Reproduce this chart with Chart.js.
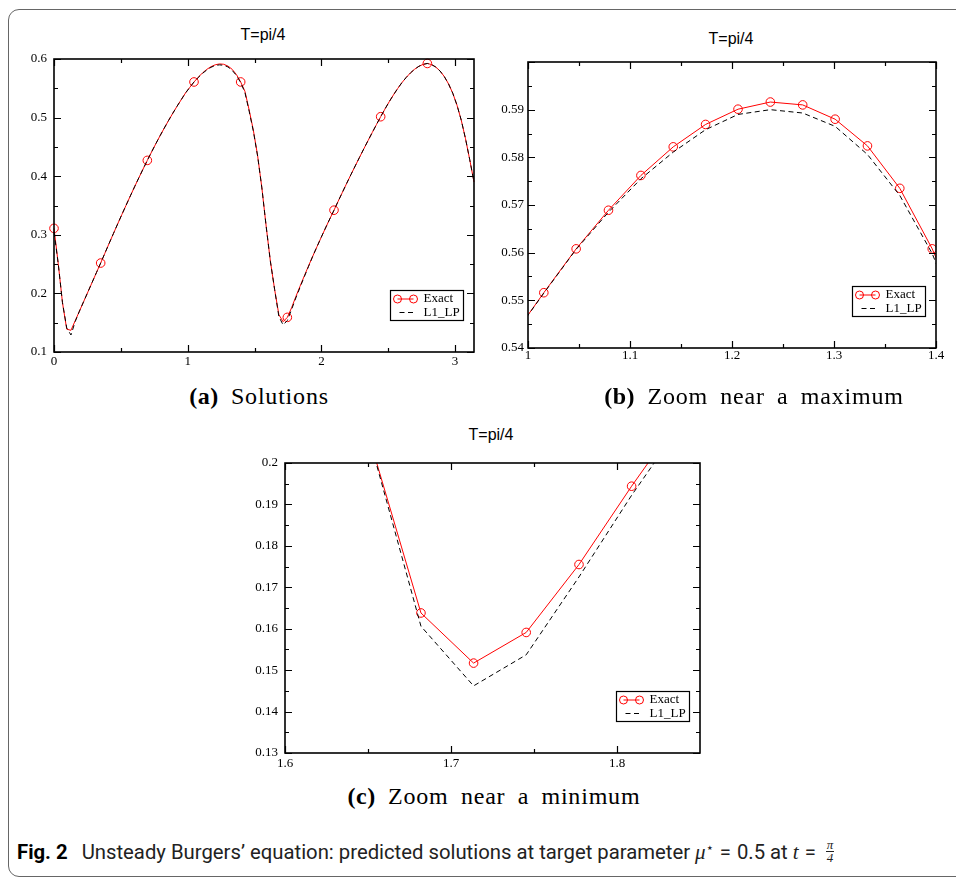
<!DOCTYPE html>
<html>
<head>
<meta charset="utf-8">
<script src="https://cdn.jsdelivr.net/npm/chart.js@4"></script>
<style>
  body { margin: 0; background: #fff; width: 956px; height: 878px; position: relative; overflow: hidden; }
  #frame { position: absolute; left: 8px; top: 9px; width: 1000px; height: 866px; border: 1.3px solid #666; border-radius: 11px; }
  canvas { position: absolute; }
  .ttl { position: absolute; font: 16px "Liberation Sans", Arial, sans-serif; color: #000; transform: translate(-50%, -50%); white-space: nowrap; }
  .sub { position: absolute; font: 24px "Liberation Serif", "Times New Roman", serif; letter-spacing: 0.8px; word-spacing: 5.5px; color: #000; transform: translate(-50%, -50%); white-space: nowrap; }
  .sub b { letter-spacing: 0.5px; }
  #caption { position: absolute; left: 17px; top: 840px; font: 20.3px Roboto, "Liberation Sans", sans-serif; color: #222; white-space: nowrap; }
  #caption b { font-weight: 700; color: #000; margin-right: 14px; }
  #caption .m { font-family: "Liberation Serif", serif; font-size: 21px; }
  #caption .star { font: 13px "DejaVu Sans", sans-serif; vertical-align: 7px; }
  #caption .eq { margin: 0 6px; }
  .frac { display: inline-block; vertical-align: middle; text-align: center; font: italic 13px "Liberation Serif", serif; line-height: 12px; margin-top: -4px; margin-left: 4px; }
  .frac span { display: block; padding: 0 1px; }
  .frac span:first-child { border-bottom: 1px solid #222; }
</style>
</head>
<body>
<div id="frame"></div>

<div class="ttl" style="left:263px; top:35px">T=pi/4</div>
<div class="ttl" style="left:731px; top:39px">T=pi/4</div>
<div class="ttl" style="left:491px; top:435px">T=pi/4</div>

<canvas id="solutions" width="480" height="325" style="left:0px; top:50px"></canvas>
<canvas id="zoomMax" width="480" height="325" style="left:476px; top:50px"></canvas>
<canvas id="zoomMin" width="480" height="330" style="left:240px; top:450px"></canvas>

<div class="sub" style="left:259px; top:396px"><b>(a)</b> Solutions</div>
<div class="sub" style="left:754px; top:396px"><b>(b)</b> Zoom near a maximum</div>
<div class="sub" style="left:494px; top:796px"><b>(c)</b> Zoom near a minimum</div>

<div id="caption"><b>Fig. 2</b>Unsteady Burgers’ equation: predicted solutions at target parameter <i class="m">μ</i><span class="star">⋆</span><span class="eq">=</span>0.5 at <i class="m">t</i><span class="eq">=</span><span class="frac"><span>π</span><span>4</span></span></div>

<script>
// grid points on [0, pi]
const xGrid = [
  0.0000, 0.0317, 0.0635, 0.0952, 0.1269, 0.1587, 0.1904, 0.2221, 0.2539, 0.2856,
  0.3173, 0.3491, 0.3808, 0.4125, 0.4443, 0.4760, 0.5077, 0.5395, 0.5712, 0.6029,
  0.6347, 0.6664, 0.6981, 0.7299, 0.7616, 0.7933, 0.8251, 0.8568, 0.8885, 0.9203,
  0.9520, 0.9837, 1.0155, 1.0472, 1.0789, 1.1107, 1.1424, 1.1741, 1.2059, 1.2376,
  1.2693, 1.3011, 1.3328, 1.3645, 1.3963, 1.4280, 1.4597, 1.4915, 1.5232, 1.5549,
  1.5867, 1.6184, 1.6501, 1.6819, 1.7136, 1.7453, 1.7771, 1.8088, 1.8405, 1.8723,
  1.9040, 1.9357, 1.9675, 1.9992, 2.0309, 2.0627, 2.0944, 2.1261, 2.1579, 2.1896,
  2.2213, 2.2531, 2.2848, 2.3165, 2.3483, 2.3800, 2.4117, 2.4435, 2.4752, 2.5069,
  2.5387, 2.5704, 2.6021, 2.6339, 2.6656, 2.6973, 2.7291, 2.7608, 2.7925, 2.8243,
  2.8560, 2.8877, 2.9195, 2.9512, 2.9829, 3.0147, 3.0464, 3.0781, 3.1099, 3.1416
];

const exact = [
  0.3110, 0.2507, 0.1840, 0.1390, 0.1370, 0.1534, 0.1698, 0.1862, 0.2026, 0.2190,
  0.2354, 0.2518, 0.2686, 0.2854, 0.3020, 0.3184, 0.3346, 0.3506, 0.3664, 0.3820,
  0.3973, 0.4123, 0.4270, 0.4414, 0.4554, 0.4690, 0.4822, 0.4950, 0.5074, 0.5193,
  0.5307, 0.5420, 0.5516, 0.5608, 0.5689, 0.5762, 0.5822, 0.5869, 0.5901, 0.5916,
  0.5910, 0.5880, 0.5824, 0.5735, 0.5608, 0.5450, 0.5130, 0.4780, 0.4350, 0.3800,
  0.3150, 0.2550, 0.2070, 0.1638, 0.1517, 0.1591, 0.1755, 0.1944, 0.2123, 0.2298,
  0.2469, 0.2636, 0.2799, 0.2959, 0.3116, 0.3270, 0.3420, 0.3575, 0.3728, 0.3879,
  0.4028, 0.4175, 0.4320, 0.4463, 0.4604, 0.4743, 0.4880, 0.5015, 0.5145, 0.5269,
  0.5386, 0.5495, 0.5595, 0.5684, 0.5761, 0.5825, 0.5875, 0.5908, 0.5924, 0.5905,
  0.5862, 0.5795, 0.5700, 0.5575, 0.5415, 0.5210, 0.4955, 0.4640, 0.4280, 0.3900
];

const l1lp = [
  0.3050, 0.2507, 0.1840, 0.1410, 0.1290, 0.1520, 0.1698, 0.1862, 0.2026, 0.2190,
  0.2354, 0.2518, 0.2686, 0.2854, 0.3020, 0.3184, 0.3346, 0.3506, 0.3664, 0.3820,
  0.3973, 0.4123, 0.4270, 0.4414, 0.4554, 0.4690, 0.4822, 0.4950, 0.5074, 0.5193,
  0.5307, 0.5420, 0.5515, 0.5607, 0.5685, 0.5755, 0.5811, 0.5858, 0.5890, 0.5900,
  0.5893, 0.5865, 0.5806, 0.5720, 0.5598, 0.5430, 0.5110, 0.4765, 0.4340, 0.3800,
  0.3150, 0.2550, 0.2070, 0.1606, 0.1462, 0.1537, 0.1725, 0.1922, 0.2104, 0.2285,
  0.2460, 0.2636, 0.2799, 0.2959, 0.3116, 0.3270, 0.3420, 0.3575, 0.3728, 0.3879,
  0.4028, 0.4175, 0.4320, 0.4463, 0.4604, 0.4743, 0.4880, 0.5015, 0.5145, 0.5269,
  0.5386, 0.5495, 0.5595, 0.5684, 0.5761, 0.5825, 0.5875, 0.5908, 0.5924, 0.5905,
  0.5862, 0.5795, 0.5700, 0.5575, 0.5415, 0.5210, 0.4955, 0.4640, 0.4280, 0.3900
];

const seriesNames = ['Exact', 'L1_LP'];

// axis ticks (values and their labels)
const xTicksA = [0, 1, 2, 3];
const xLabelsA = ['0', '1', '2', '3'];
const yTicksA = [0.1, 0.2, 0.3, 0.4, 0.5, 0.6];
const yLabelsA = ['0.1', '0.2', '0.3', '0.4', '0.5', '0.6'];

const xTicksB = [1, 1.1, 1.2, 1.3, 1.4];
const xLabelsB = ['1', '1.1', '1.2', '1.3', '1.4'];
const yTicksB = [0.54, 0.55, 0.56, 0.57, 0.58, 0.59, 0.6];
const yLabelsB = ['0.54', '0.55', '0.56', '0.57', '0.58', '0.59', ''];

const xTicksC = [1.6, 1.7, 1.8];
const xLabelsC = ['1.6', '1.7', '1.8'];
const yTicksC = [0.13, 0.14, 0.15, 0.16, 0.17, 0.18, 0.19, 0.2];
const yLabelsC = ['0.13', '0.14', '0.15', '0.16', '0.17', '0.18', '0.19', '0.2'];

const serif = '"Liberation Serif", "Times New Roman", serif';
Chart.defaults.font.family = serif;

// xmgrace-like box: frame, inward major/minor ticks on all four sides, legend
const gracePlot = {
  id: 'gracePlot',
  afterDatasetsDraw(chart) {
    const { ctx, chartArea: a, scales: { x, y } } = chart;
    const mids = t => t.slice(1).map((v, i) => (v + t[i]) / 2);
    const xs = x.ticks.map(t => t.value), ys = y.ticks.map(t => t.value);
    ctx.save();
    ctx.strokeStyle = '#000';
    ctx.lineWidth = 1.2;
    ctx.beginPath();
    const xMark = (v, len) => {
      const px = Math.round(x.getPixelForValue(v)) + 0.5;
      ctx.moveTo(px, a.bottom); ctx.lineTo(px, a.bottom - len);
      ctx.moveTo(px, a.top); ctx.lineTo(px, a.top + len);
    };
    const yMark = (v, len) => {
      const py = Math.round(y.getPixelForValue(v)) + 0.5;
      ctx.moveTo(a.left, py); ctx.lineTo(a.left + len, py);
      ctx.moveTo(a.right, py); ctx.lineTo(a.right - len, py);
    };
    xs.forEach(v => xMark(v, 7));
    mids(xs).forEach(v => xMark(v, 4));
    ys.forEach(v => yMark(v, 7));
    mids(ys).forEach(v => yMark(v, 4));
    ctx.stroke();
    ctx.lineWidth = 1.6;
    ctx.strokeRect(a.left, a.top, a.right - a.left, a.bottom - a.top);

    // legend box in the lower right corner
    const w = 73, h = 30;
    const bx = Math.round(a.right - 11 - w) + 0.5, by = Math.round(a.bottom - 32 - h) + 0.5;
    ctx.fillStyle = '#fff';
    ctx.fillRect(bx, by, w, h);
    ctx.lineWidth = 1.2;
    ctx.strokeRect(bx, by, w, h);
    ctx.strokeStyle = '#f00';
    ctx.lineWidth = 1;
    ctx.beginPath();
    ctx.moveTo(bx + 7, by + 8.5); ctx.lineTo(bx + 23, by + 8.5);
    ctx.stroke();
    [bx + 7, bx + 23].forEach(cx => {
      ctx.beginPath();
      ctx.arc(cx, by + 8.5, 4, 0, Math.PI * 2);
      ctx.stroke();
    });
    ctx.strokeStyle = '#000';
    ctx.setLineDash([5, 3.5]);
    ctx.beginPath();
    ctx.moveTo(bx + 9, by + 22); ctx.lineTo(bx + 26, by + 22);
    ctx.stroke();
    ctx.setLineDash([]);
    ctx.fillStyle = '#000';
    ctx.font = '13px ' + serif;
    ctx.textBaseline = 'middle';
    ctx.fillText(seriesNames[0], bx + 33, by + 8.5);
    ctx.fillText(seriesNames[1], bx + 33, by + 22);
    ctx.restore();
  }
};

function makeChart(id, o) {
  const pts = vals => xGrid.map((x, i) => ({ x: x, y: vals[i] }));
  return new Chart(document.getElementById(id), {
    type: 'line',
    data: {
      datasets: [
        {
          label: seriesNames[0],
          data: pts(exact),
          borderColor: '#ff0000',
          borderWidth: 1,
          pointRadius: ctx => o.markEvery(ctx.dataIndex) ? 4.3 : 0,
          pointBorderColor: '#ff0000',
          pointBackgroundColor: 'rgba(0,0,0,0)',
          pointBorderWidth: 1,
          clip: o.clip,
          order: 1
        },
        {
          label: seriesNames[1],
          data: pts(l1lp),
          borderColor: '#000',
          borderWidth: 1,
          borderDash: [5, 3.5],
          pointRadius: 0,
          clip: o.clip,
          order: 0
        }
      ]
    },
    plugins: [gracePlot],
    options: {
      responsive: false,
      animation: false,
      devicePixelRatio: 1,
      events: [],
      layout: { padding: o.pad },
      elements: { line: { tension: 0 } },
      plugins: { legend: { display: false }, tooltip: { enabled: false } },
      scales: {
        x: {
          type: 'linear',
          min: o.xMin, max: o.xMax,
          grid: { display: false, drawTicks: false },
          border: { display: false },
          afterBuildTicks: s => { s.ticks = o.xTicks.map(v => ({ value: v })); },
          afterFit: s => { s.height = o.xH; s.paddingLeft = 0; s.paddingRight = 0; },
          ticks: {
            color: '#000', padding: o.xPad, maxRotation: 0, autoSkip: false,
            font: { family: serif, size: 13 },
            callback: (v, i) => o.xLabels[i]
          }
        },
        y: {
          type: 'linear',
          min: o.yMin, max: o.yMax,
          grid: { display: false, drawTicks: false },
          border: { display: false },
          afterBuildTicks: s => { s.ticks = o.yTicks.map(v => ({ value: v })); },
          afterFit: s => { s.width = o.yW; s.paddingTop = 0; s.paddingBottom = 0; },
          ticks: {
            color: '#000', padding: o.yPad, autoSkip: false,
            font: { family: serif, size: 13 },
            callback: (v, i) => o.yLabels[i]
          }
        }
      }
    }
  });
}

makeChart('solutions', {
  xMin: 0, xMax: 3.1416, yMin: 0.1, yMax: 0.6,
  xTicks: xTicksA, xLabels: xLabelsA, yTicks: yTicksA, yLabels: yLabelsA,
  markEvery: i => i % 11 === 0 && i < 99,
  clip: 6, pad: { top: 9, right: 6, left: 0, bottom: 0 }, xH: 23, yW: 54, xPad: 2, yPad: 7
});

makeChart('zoomMax', {
  xMin: 1, xMax: 1.4, yMin: 0.54, yMax: 0.6,
  xTicks: xTicksB, xLabels: xLabelsB, yTicks: yTicksB, yLabels: yLabelsB,
  markEvery: () => true,
  clip: 0, pad: { top: 12, right: 20, left: 0, bottom: 0 }, xH: 27, yW: 52, xPad: 0, yPad: 4
});

makeChart('zoomMin', {
  xMin: 1.6, xMax: 1.85, yMin: 0.13, yMax: 0.2,
  xTicks: xTicksC, xLabels: xLabelsC, yTicks: yTicksC, yLabels: yLabelsC,
  markEvery: () => true,
  clip: 0, pad: { top: 13, right: 20, left: 0, bottom: 0 }, xH: 27, yW: 45, xPad: 3, yPad: 7
});
</script>
</body>
</html>
